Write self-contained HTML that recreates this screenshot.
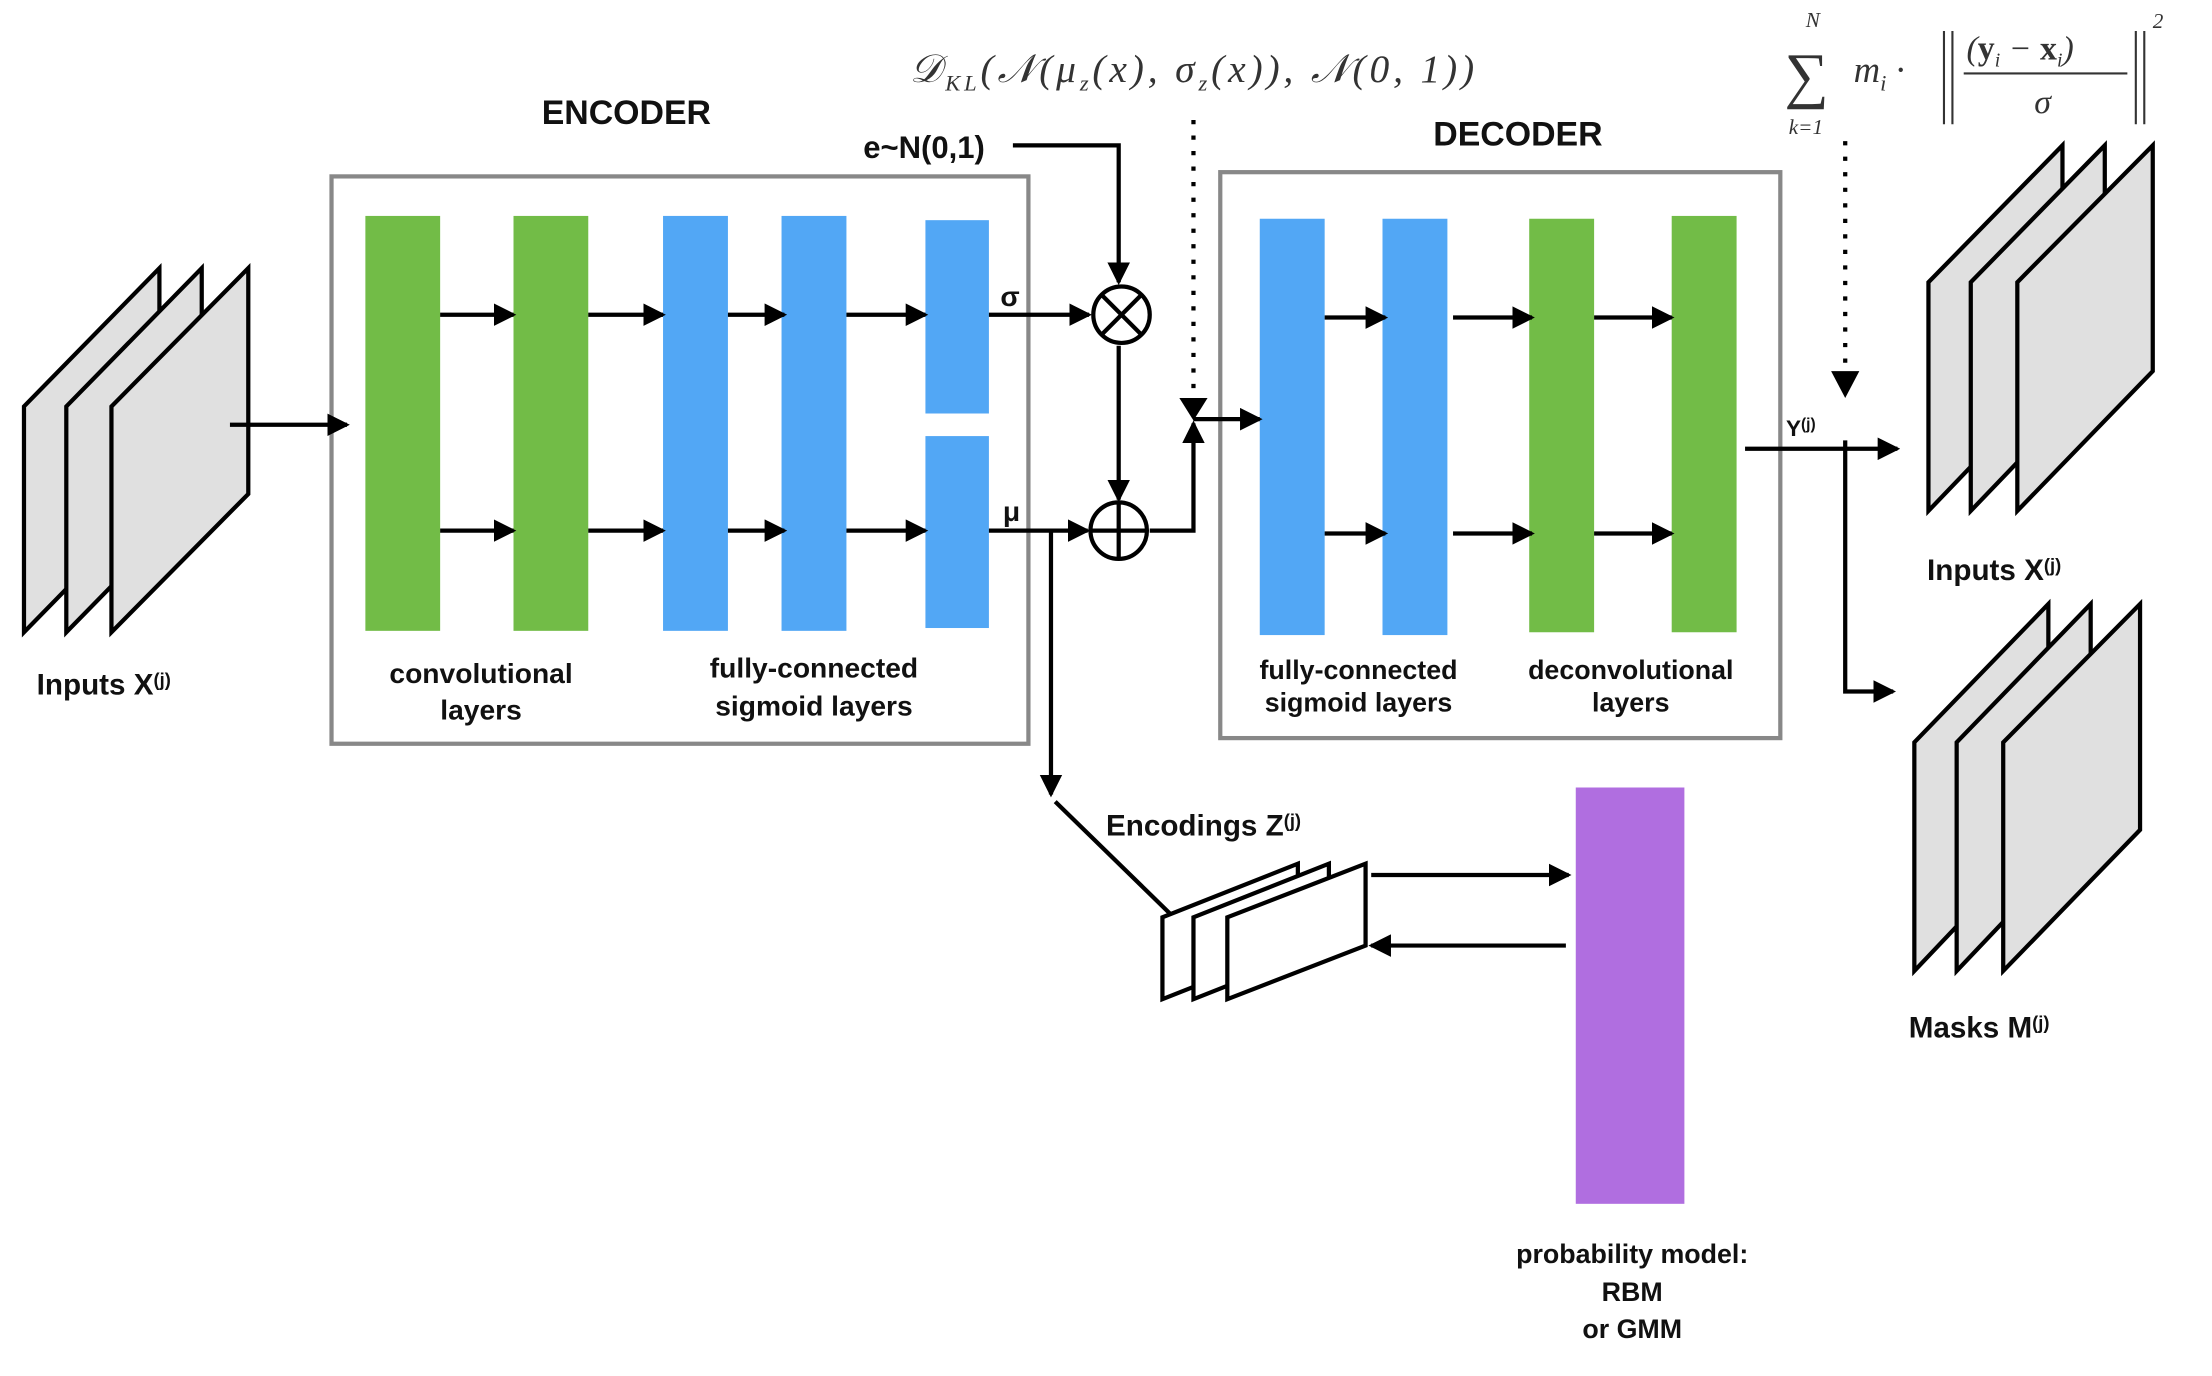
<!DOCTYPE html>
<html><head><meta charset="utf-8"><style>
html,body{margin:0;padding:0;background:#fff;}
svg{display:block;}
text{font-family:"Liberation Sans",sans-serif;font-weight:bold;fill:#111;}
.m{font-family:"Liberation Serif",serif;font-weight:normal;font-style:italic;fill:#333;}
</style></head><body>
<svg width="2212" height="1376" viewBox="0 0 1568 975" preserveAspectRatio="none" xmlns="http://www.w3.org/2000/svg">
<defs>
<marker id="b" markerWidth="16" markerHeight="16" refX="14" refY="8" orient="auto" markerUnits="userSpaceOnUse" viewBox="0 0 16 16"><path d="M0,0 L16,8 L0,16 z" fill="#000"/></marker></defs>
<g stroke="#000" stroke-width="3" fill="#e0e0e0" stroke-linejoin="miter">
<path d="M17,448 L17,288 L113,190 L113,350 Z"/>
<path d="M47,448 L47,288 L143,190 L143,350 Z"/>
<path d="M79,448 L79,288 L176,190 L176,350 Z"/>
<path d="M1367,362 L1367,200 L1462,103 L1462,263 Z"/>
<path d="M1397,362 L1397,200 L1492,103 L1492,263 Z"/>
<path d="M1430,362 L1430,200 L1526,103 L1526,263 Z"/>
<path d="M1357,688 L1357,526 L1452,428 L1452,588 Z"/>
<path d="M1387,688 L1387,526 L1482,428 L1482,588 Z"/>
<path d="M1420,688 L1420,526 L1517,428 L1517,588 Z"/>
</g>
<g stroke="#000" stroke-width="3" fill="#fff">
<path d="M824,708 L824,650 L920,612 L920,670 Z"/>
<path d="M846,708 L846,650 L942,612 L942,670 Z"/>
<path d="M870,708 L870,650 L968,612 L968,670 Z"/>
</g>
<rect x="235" y="125" width="494" height="402" fill="none" stroke="#888" stroke-width="3"/>
<rect x="865" y="122" width="397" height="401" fill="none" stroke="#888" stroke-width="3"/>
<g fill="#72bc47">
<rect x="259" y="153" width="53" height="294"/><rect x="364" y="153" width="53" height="294"/>
<rect x="1084" y="155" width="46" height="293"/><rect x="1185" y="153" width="46" height="295"/>
</g>
<g fill="#52a7f5">
<rect x="470" y="153" width="46" height="294"/><rect x="554" y="153" width="46" height="294"/>
<rect x="656" y="156" width="45" height="137"/><rect x="656" y="309" width="45" height="136"/>
<rect x="893" y="155" width="46" height="295"/><rect x="980" y="155" width="46" height="295"/>
</g>
<rect x="1117" y="558" width="77" height="295" fill="#b06ee0"/>
<g stroke="#000" stroke-width="3" fill="none" marker-end="url(#b)">
<line x1="163" y1="301" x2="246" y2="301"/>
<line x1="312" y1="223" x2="364" y2="223"/><line x1="312" y1="376" x2="364" y2="376"/>
<line x1="417" y1="223" x2="470" y2="223"/><line x1="417" y1="376" x2="470" y2="376"/>
<line x1="516" y1="223" x2="556" y2="223"/><line x1="516" y1="376" x2="556" y2="376"/>
<line x1="600" y1="223" x2="656" y2="223"/><line x1="600" y1="376" x2="656" y2="376"/>
<line x1="701" y1="223" x2="772" y2="223"/><line x1="701" y1="376" x2="771" y2="376"/>
<polyline points="718,103 793,103 793,200"/>
<line x1="793" y1="245" x2="793" y2="354"/>
<polyline points="815,376 846,376 846,300"/>
<line x1="846" y1="297" x2="893" y2="297"/>
<line x1="745" y1="376" x2="745" y2="563"/>
<line x1="939" y1="225" x2="982" y2="225"/><line x1="939" y1="378" x2="982" y2="378"/>
<line x1="1030" y1="225" x2="1086" y2="225"/><line x1="1030" y1="378" x2="1086" y2="378"/>
<line x1="1130" y1="225" x2="1185" y2="225"/><line x1="1130" y1="378" x2="1185" y2="378"/>
<line x1="1237" y1="318" x2="1345" y2="318"/>
<polyline points="1308,312 1308,490 1342,490"/>
<line x1="972" y1="620" x2="1112" y2="620"/><line x1="1110" y1="670" x2="972" y2="670"/>
</g>
<g stroke="#000" stroke-width="3" fill="none">
<line x1="748" y1="568" x2="830" y2="648"/>
<line x1="846" y1="85" x2="846" y2="280" stroke-dasharray="3,8"/>
<line x1="1308" y1="100" x2="1308" y2="262" stroke-dasharray="3,8"/>
<circle cx="795" cy="223" r="20"/><circle cx="793" cy="376" r="20"/>
<line x1="781" y1="209" x2="809" y2="237"/><line x1="809" y1="209" x2="781" y2="237"/>
<line x1="773" y1="376" x2="813" y2="376"/><line x1="793" y1="356" x2="793" y2="396"/>
</g>
<path d="M836,282 L856,282 L846,298 Z" fill="#000"/>
<path d="M1298,263 L1318,263 L1308,282 Z" fill="#000"/>
<text x="444" y="88" font-size="24" text-anchor="middle">ENCODER</text>
<text x="1076" y="103" font-size="24" text-anchor="middle">DECODER</text>
<text x="655" y="112" font-size="22" text-anchor="middle">e~N(0,1)</text>
<text x="716" y="217" font-size="20" text-anchor="middle">σ</text>
<text x="717" y="369" font-size="20" text-anchor="middle">μ</text>
<text x="26" y="492" font-size="21">Inputs X<tspan font-size="13" dy="-6">(j)</tspan></text>
<g font-size="20" text-anchor="middle">
<text x="341" y="484">convolutional</text><text x="341" y="510">layers</text>
<text x="577" y="480">fully-connected</text><text x="577" y="507">sigmoid layers</text>
</g>
<g font-size="19" text-anchor="middle">
<text x="963" y="481">fully-connected</text><text x="963" y="504">sigmoid layers</text>
<text x="1156" y="481">deconvolutional</text><text x="1156" y="504">layers</text>
<text x="1157" y="895">probability model:</text><text x="1157" y="922">RBM</text><text x="1157" y="948">or GMM</text>
</g>
<text x="784" y="592" font-size="21">Encodings Z<tspan font-size="13" dy="-6">(j)</tspan></text>
<text x="1266" y="309" font-size="16">Y<tspan font-size="11" dy="-5">(j)</tspan></text>
<text x="1366" y="411" font-size="21">Inputs X<tspan font-size="13" dy="-6">(j)</tspan></text>
<text x="1353" y="735" font-size="21">Masks M<tspan font-size="13" dy="-6">(j)</tspan></text>
<text x="645" y="58" class="m" font-size="28" textLength="400" lengthAdjust="spacing">𝒟<tspan font-size="16" dy="6">KL</tspan><tspan dy="-6">(𝒩(μ</tspan><tspan font-size="16" dy="6">z</tspan><tspan dy="-6">(x), σ</tspan><tspan font-size="16" dy="6">z</tspan><tspan dy="-6">(x)), 𝒩(0, 1))</tspan></text>
<text x="1280" y="19" class="m" font-size="15">N</text>
<text x="1265" y="68" class="m" font-size="44" font-style="normal">∑</text>
<text x="1268" y="95" class="m" font-size="15">k=1</text>
<text x="1314" y="58" class="m" font-size="26">m<tspan font-size="16" dy="6">i</tspan><tspan dy="-6"> ·</tspan></text>
<g stroke="#333" stroke-width="1.5">
<line x1="1378" y1="22" x2="1378" y2="88"/><line x1="1384" y1="22" x2="1384" y2="88"/>
<line x1="1514" y1="22" x2="1514" y2="88"/><line x1="1520" y1="22" x2="1520" y2="88"/>
<line x1="1392" y1="52" x2="1508" y2="52"/>
</g>
<text x="1394" y="42" class="m" font-size="24">(<tspan font-weight="bold" font-style="normal">y</tspan><tspan font-size="14" dy="5">i</tspan><tspan dy="-5"> − </tspan><tspan font-weight="bold" font-style="normal">x</tspan><tspan font-size="14" dy="5">i</tspan><tspan dy="-5">)</tspan></text>
<text x="1442" y="80" class="m" font-size="24">σ</text>
<text x="1526" y="20" class="m" font-size="15" font-style="normal">2</text>
</svg>
</body></html>
